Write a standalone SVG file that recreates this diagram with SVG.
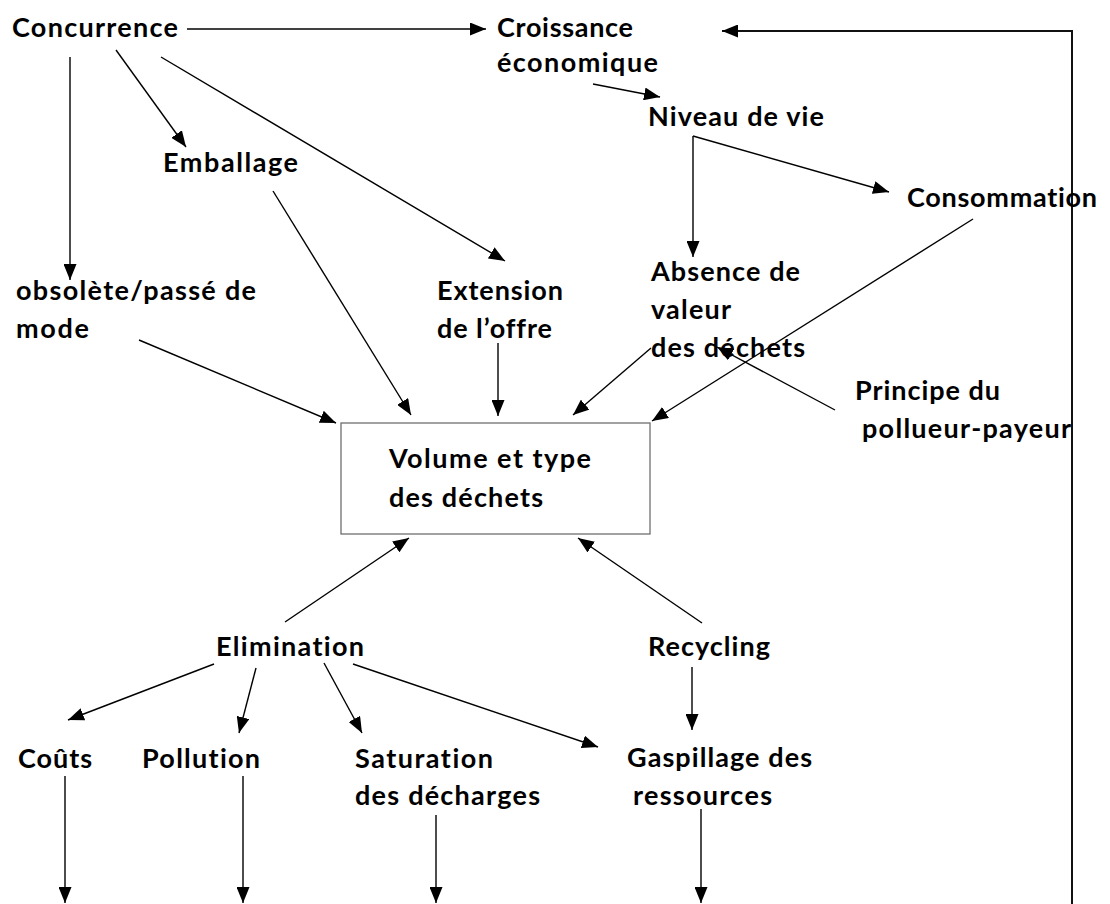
<svg xmlns="http://www.w3.org/2000/svg" width="1110" height="904" viewBox="0 0 1110 904">
  <style>
    text { font-family: Lato, "Open Sans", "Liberation Sans", sans-serif; font-weight: 700; font-size: 27px; fill: #000; font-variant-ligatures: none; }
    .ln { stroke: #000; stroke-width: 1.4; fill: none; }
    .loop { stroke: #111; stroke-width: 2; fill: none; }
    .box { fill: #fff; stroke: #6f6f6f; stroke-width: 1.3; }
  </style>
  <defs>
    <marker id="arr" markerUnits="userSpaceOnUse" markerWidth="17" markerHeight="13" refX="16" refY="6.5" orient="auto">
      <path d="M0,0 L16,6.5 L0,13 z" fill="#000"/>
    </marker>
  </defs>

  <rect width="1110" height="904" fill="#fff"/>

  <g id="connectors">
    <line class="ln" x1="187" y1="29" x2="486" y2="29" marker-end="url(#arr)"/>
    <path class="loop" d="M1072,904 L1072,31 L722,31" marker-end="url(#arr)"/>
    <line class="ln" x1="70" y1="57" x2="70" y2="280" marker-end="url(#arr)"/>
    <line class="ln" x1="116" y1="50" x2="186" y2="147" marker-end="url(#arr)"/>
    <line class="ln" x1="161" y1="57" x2="505" y2="261" marker-end="url(#arr)"/>
    <line class="ln" x1="593" y1="84" x2="660" y2="97" marker-end="url(#arr)"/>
    <line class="ln" x1="693" y1="136" x2="693" y2="257" marker-end="url(#arr)"/>
    <line class="ln" x1="693" y1="136" x2="889" y2="192" marker-end="url(#arr)"/>
    <line class="ln" x1="273" y1="191" x2="411" y2="415" marker-end="url(#arr)"/>
    <line class="ln" x1="139" y1="340" x2="336" y2="423" marker-end="url(#arr)"/>
    <line class="ln" x1="498" y1="343" x2="498" y2="416" marker-end="url(#arr)"/>
    <line class="ln" x1="651" y1="348" x2="573" y2="415" marker-end="url(#arr)"/>
    <line class="ln" x1="973" y1="219" x2="652" y2="421" marker-end="url(#arr)"/>
    <line class="ln" x1="835" y1="410" x2="717" y2="347" marker-end="url(#arr)"/>
    <line class="ln" x1="285" y1="622" x2="409" y2="538" marker-end="url(#arr)"/>
    <line class="ln" x1="702" y1="623" x2="578" y2="538" marker-end="url(#arr)"/>
    <line class="ln" x1="214" y1="664" x2="68" y2="720" marker-end="url(#arr)"/>
    <line class="ln" x1="256" y1="668" x2="239" y2="733" marker-end="url(#arr)"/>
    <line class="ln" x1="324" y1="663" x2="362" y2="733" marker-end="url(#arr)"/>
    <line class="ln" x1="353" y1="664" x2="598" y2="747" marker-end="url(#arr)"/>
    <line class="ln" x1="692" y1="667" x2="692" y2="730" marker-end="url(#arr)"/>
    <line class="ln" x1="65" y1="776" x2="65" y2="903" marker-end="url(#arr)"/>
    <line class="ln" x1="243" y1="776" x2="243" y2="903" marker-end="url(#arr)"/>
    <line class="ln" x1="436" y1="815" x2="436" y2="903" marker-end="url(#arr)"/>
    <line class="ln" x1="701" y1="809" x2="701" y2="903" marker-end="url(#arr)"/>
  </g>

  <g id="concurrence"><text x="12" y="37" textLength="166">Concurrence</text></g>
  <g id="croissance">
    <text x="497" y="37" textLength="136">Croissance</text>
    <text x="497" y="72" textLength="161">économique</text>
  </g>
  <g id="niveau-de-vie"><text x="648" y="126" textLength="176">Niveau de vie</text></g>
  <g id="emballage"><text x="163" y="172" textLength="135">Emballage</text></g>
  <g id="consommation"><text x="907" y="207" textLength="190">Consommation</text></g>
  <g id="obsolete">
    <text x="16" y="300" textLength="240">obsolète/passé de</text>
    <text x="16" y="338" textLength="73">mode</text>
  </g>
  <g id="extension">
    <text x="437" y="300" textLength="126">Extension</text>
    <text x="437" y="338" textLength="115">de l’offre</text>
  </g>
  <g id="absence-valeur">
    <text x="651" y="281" textLength="149">Absence de</text>
    <text x="651" y="319" textLength="80">valeur</text>
    <text x="651" y="357" textLength="154">des déchets</text>
  </g>
  <g id="principe">
    <text x="855" y="400" textLength="145">Principe du</text>
    <text x="862" y="438" textLength="209">pollueur-payeur</text>
  </g>
  <g id="volume">
    <rect class="box" x="341" y="423" width="309" height="111"/>
    <text x="389" y="468" textLength="202">Volume et type</text>
    <text x="389" y="507" textLength="154">des déchets</text>
  </g>
  <g id="elimination"><text x="216" y="656" textLength="148">Elimination</text></g>
  <g id="recycling"><text x="648" y="656" textLength="122">Recycling</text></g>
  <g id="couts"><text x="18" y="768" textLength="74">Coûts</text></g>
  <g id="pollution"><text x="142" y="768" textLength="118">Pollution</text></g>
  <g id="saturation">
    <text x="355" y="768" textLength="138">Saturation</text>
    <text x="355" y="805" textLength="185">des décharges</text>
  </g>
  <g id="gaspillage">
    <text x="627" y="767" textLength="185">Gaspillage des</text>
    <text x="633" y="805" textLength="139">ressources</text>
  </g>
</svg>
